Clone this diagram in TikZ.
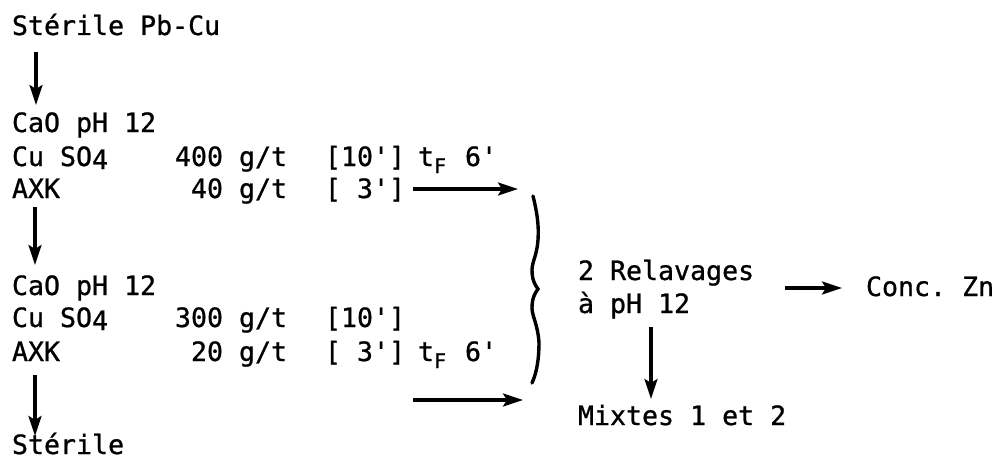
\documentclass[tikz,border=0pt]{standalone}
\usepackage{fontspec}
\setmonofont[FakeBold=0.9]{DejaVu Sans Mono}
\usetikzlibrary{arrows.meta}
\tikzset{
  txt/.style={anchor=base west,inner sep=0pt,outer sep=0pt,font=\ttfamily\fontsize{26.6}{30}\selectfont},
  flow/.style={line width=3.2pt,-{Stealth[length=20pt,width=13pt,inset=4pt]}},
  bracecurve/.style={line width=3.4pt,line cap=round}
}
\newcommand{\subf}{\raisebox{-7pt}{\fontsize{20}{20}\selectfont F}}
\newcommand{\subq}{\raisebox{-3pt}{4}}
\begin{document}
\begin{tikzpicture}[x=1pt,y=-1pt]
\useasboundingbox (0,0) rectangle (1007,460);
\fill[white] (0,0) rectangle (1007,460);
% left column
\node[txt] (feed) at (12,35) {Stérile Pb-Cu};
\node[txt] (cao1) at (12,132) {CaO pH 12};
\node[txt] (cu1) at (12,166) {Cu SO\subq};
\node[txt] (axk1) at (12,198) {AXK};
\node[txt] (d1) at (175,166) {400 g/t};
\node[txt] (d2) at (191,198) {40 g/t};
\node[txt] (t1) at (325,166) {[10']};
\node[txt] (t2) at (325,198) {[ 3']};
\node[txt] (tf1) at (418,166) {t\subf};
\node[txt] (six1) at (465,166) {6'};
\node[txt] (cao2) at (12,295) {CaO pH 12};
\node[txt] (cu2) at (12,327) {Cu SO\subq};
\node[txt] (axk2) at (12,361) {AXK};
\node[txt] (d3) at (175,327) {300 g/t};
\node[txt] (d4) at (191,361) {20 g/t};
\node[txt] (t3) at (325,327) {[10']};
\node[txt] (t4) at (325,361) {[ 3']};
\node[txt] (tf2) at (418,361) {t\subf};
\node[txt] (six2) at (465,361) {6'};
\node[txt] (ster) at (12,454) {Stérile};
% right
\node[txt] (rel) at (578,280) {2 Relavages};
\node[txt] (ph) at (578,313) {à pH 12};
\node[txt] (conc) at (866,296) {Conc. Zn};
\node[txt] (mix) at (578,425) {Mixtes 1 et 2};
% brace
\coordinate (btop) at (518,189);
\coordinate (bbot) at (523,400);
\draw[bracecurve] (533,196) .. controls (537,212) and (539,225) .. (538,240)
  .. controls (537,255) and (532,262) .. (532,270)
  .. controls (532,280) and (535,285) .. (538,289)
  .. controls (535,293) and (532,298) .. (532,308)
  .. controls (532,316) and (538,325) .. (539,343)
  .. controls (539,358) and (537,372) .. (532,383);
% connectors
\draw[flow] ([shift={(24,17)}]feed.base west) -- ([shift={(24,-27)}]cao1.base west);
\draw[flow] ([shift={(23,9)}]axk1.base west) -- ([shift={(23,-30)}]cao2.base west);
\draw[flow] ([shift={(23,14)}]axk2.base west) -- ([shift={(23,-18)}]ster.base west);
\draw[flow] ([shift={(88,-9)}]t2.base west) -- (btop);
\draw[flow] ([shift={(88,39)}]t4.base west) -- (bbot);
\draw[flow] ([shift={(73,14)}]ph.base west) -- ([shift={(73,-26)}]mix.base west);
\draw[flow] ([shift={(207,8)}]rel.base west) -- ([shift={(-24,-8)}]conc.base west);
\end{tikzpicture}
\end{document}
